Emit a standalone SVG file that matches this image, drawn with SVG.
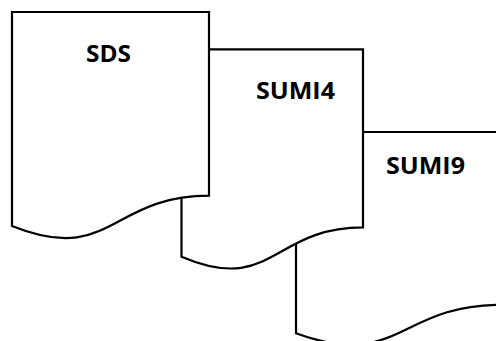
<svg xmlns="http://www.w3.org/2000/svg" width="496" height="341" viewBox="0 0 496 341">
<style>
.doc{fill:#fff;stroke:#000;stroke-width:2.2;stroke-linejoin:miter}
.lbl{font-family:"Open Sans","Liberation Sans",sans-serif;font-weight:bold;font-size:24px;fill:#000;text-anchor:middle}
</style>
<rect width="496" height="341" fill="#fff"/>
<g id="connectors"></g>
<g id="sumi9">
<path class="doc" d="M296,132 H501 V304.8 C398.5,304.8 398.5,370.7 296,333.3 Z"/>
<text class="lbl" x="425.5" y="174" textLength="79" lengthAdjust="spacingAndGlyphs">SUMI9</text>
</g>
<g id="sumi4">
<path class="doc" d="M181.5,49.3 H363 V227.4 C272.25,227.4 272.25,295.3 181.5,256.7 Z"/>
<text class="lbl" x="295.5" y="98.5" textLength="79" lengthAdjust="spacingAndGlyphs">SUMI4</text>
</g>
<g id="sds">
<path class="doc" d="M12,12 H209 V195.7 C110.5,195.7 110.5,265.6 12,225.9 Z"/>
<text class="lbl" x="108.5" y="61.5" textLength="45" lengthAdjust="spacingAndGlyphs">SDS</text>
</g>
</svg>
